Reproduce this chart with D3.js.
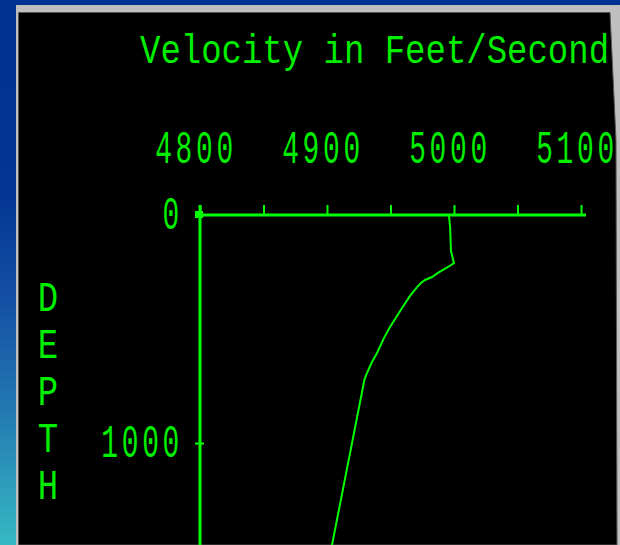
<!DOCTYPE html>
<html>
<head>
<meta charset="utf-8">
<script src="https://cdn.jsdelivr.net/npm/d3@7"></script>
<style>
  html, body { margin: 0; padding: 0; background: #003090; overflow: hidden; }
  svg { display: block; }
</style>
</head>
<body>
<svg id="chart" width="620" height="545"></svg>
<script>
// ---- data ----
const titleText = "Velocity in Feet/Second";
const depthLetters = ["D", "E", "P", "T", "H"];
const velocityTicks = [4800, 4850, 4900, 4950, 5000, 5050, 5100];
const velocityLabels = [4800, 4900, 5000, 5100];
const depthTicks = [0, 1000];
// velocity profile: depth (ft) vs velocity (ft/s)
const depthFt = [0, 57, 158, 211, 228, 241, 254, 272, 285, 298, 316, 338, 355, 395, 443, 491, 539, 605, 645, 693, 722, 1460];
const velocityFps = [4996, 4997, 4997.6, 5000, 4995.3, 4991.3, 4987.4, 4982.7, 4977.2, 4974, 4970.9, 4967.7, 4965.4, 4960.6, 4955.1, 4949.6, 4944.9, 4939.4, 4935.4, 4931.5, 4929.5, 4903.5];

// ---- setup ----
const W = 620, H = 545;
const GREEN = "#00ff00";
const TEXT_GREEN = "#00ee00";
const FONT = "'Liberation Mono', 'DejaVu Sans Mono', monospace";
const svg = d3.select("#chart");

// background gradient
const defs = svg.append("defs");
const grad = defs.append("linearGradient").attr("id", "bg").attr("x1", 0).attr("y1", 0).attr("x2", 0).attr("y2", 1);
[[0, "#003090"], [0.35, "#043494"], [0.55, "#1450a4"], [0.75, "#2378b2"], [1, "#36b9c3"]]
  .forEach(([o, c]) => grad.append("stop").attr("offset", o).attr("stop-color", c));
svg.append("rect").attr("width", W).attr("height", H).attr("fill", "url(#bg)");

// grey frame and black panel
svg.append("polygon")
  .attr("points", [[16, 5], [620, 5], [620, 545], [16, 545]].join(" "))
  .attr("fill", "#bfbfbf");
const panel = [[18.5, 12.5], [610, 12.5], [616, 140], [617, 545], [18.5, 545]];
svg.append("polygon").attr("points", panel.join(" ")).attr("fill", "#000").attr("stroke", "#555").attr("stroke-width", 1);

const g = svg.append("g");

// ---- scales ----
const x = d3.scaleLinear().domain([4800, 5100]).range([200, 581]);
const y = d3.scaleLinear().domain([0, 1000]).range([215, 443]);

// title
g.append("text")
  .attr("transform", "translate(140,63) scale(1,1.22)")
  .attr("font-family", FONT).attr("font-size", 34).attr("fill", TEXT_GREEN)
  .attr("xml:space", "preserve")
  .text(titleText);

// y-axis title, one letter per line
g.selectAll("text.depth").data(depthLetters).join("text")
  .attr("class", "depth")
  .attr("transform", (d, i) => `translate(48,${311 + i * 47}) scale(1,1.26)`)
  .attr("text-anchor", "middle")
  .attr("font-family", FONT).attr("font-size", 34).attr("fill", TEXT_GREEN)
  .text(d => d);

// narrow tall digits for the tick labels
const digitStyle = sel => sel
  .attr("fill", TEXT_GREEN).attr("font-family", FONT).attr("font-size", 34)
  .attr("letter-spacing", 4.5);

// x axis (top)
const xAxis = d3.axisTop(x)
  .tickValues(velocityTicks)
  .tickSize(10).tickSizeOuter(0)
  .tickFormat(d => velocityLabels.includes(d) ? d3.format("d")(d) : "");
const gx = g.append("g").attr("transform", `translate(0,${y(0)})`).call(xAxis);
gx.select(".domain").remove();
gx.selectAll(".tick line").attr("stroke", GREEN).attr("stroke-width", 2);
gx.selectAll(".tick text")
  .attr("y", 0).attr("dy", null)
  .attr("transform", "translate(-4.5,-52) scale(0.82,1.36)")
  .attr("text-anchor", "middle")
  .call(digitStyle);
gx.append("line")
  .attr("x1", x(4800)).attr("x2", x(5100) + 5)
  .attr("y1", 0).attr("y2", 0)
  .attr("stroke", GREEN).attr("stroke-width", 3);

// y axis (left)
const yAxis = d3.axisLeft(y)
  .tickValues(depthTicks)
  .tickSize(5).tickSizeOuter(0)
  .tickFormat(d3.format("d"));
const gy = g.append("g").attr("transform", `translate(${x(4800)},0)`).call(yAxis);
gy.select(".domain").remove();
gy.selectAll(".tick line").attr("x2", 4).attr("x1", -5).attr("stroke", GREEN).attr("stroke-width", 2);
gy.selectAll(".tick text")
  .attr("x", 0).attr("dy", null)
  .attr("transform", "translate(-17,13) scale(0.82,1.36)")
  .attr("text-anchor", "end")
  .call(digitStyle);
gy.append("line")
  .attr("x1", 0).attr("x2", 0)
  .attr("y1", y(0) - 10).attr("y2", H + 20)
  .attr("stroke", GREEN).attr("stroke-width", 3);
// origin marker
gy.append("rect")
  .attr("x", -5).attr("y", y(0) - 4).attr("width", 8).attr("height", 7)
  .attr("fill", GREEN);

// velocity profile
const profile = depthFt.map((d, i) => ({ d, v: velocityFps[i] }));
g.append("path")
  .datum(profile)
  .attr("fill", "none")
  .attr("stroke", GREEN)
  .attr("stroke-width", 2)
  .attr("d", d3.line().x(p => x(p.v)).y(p => y(p.d)));
</script>
</body>
</html>
